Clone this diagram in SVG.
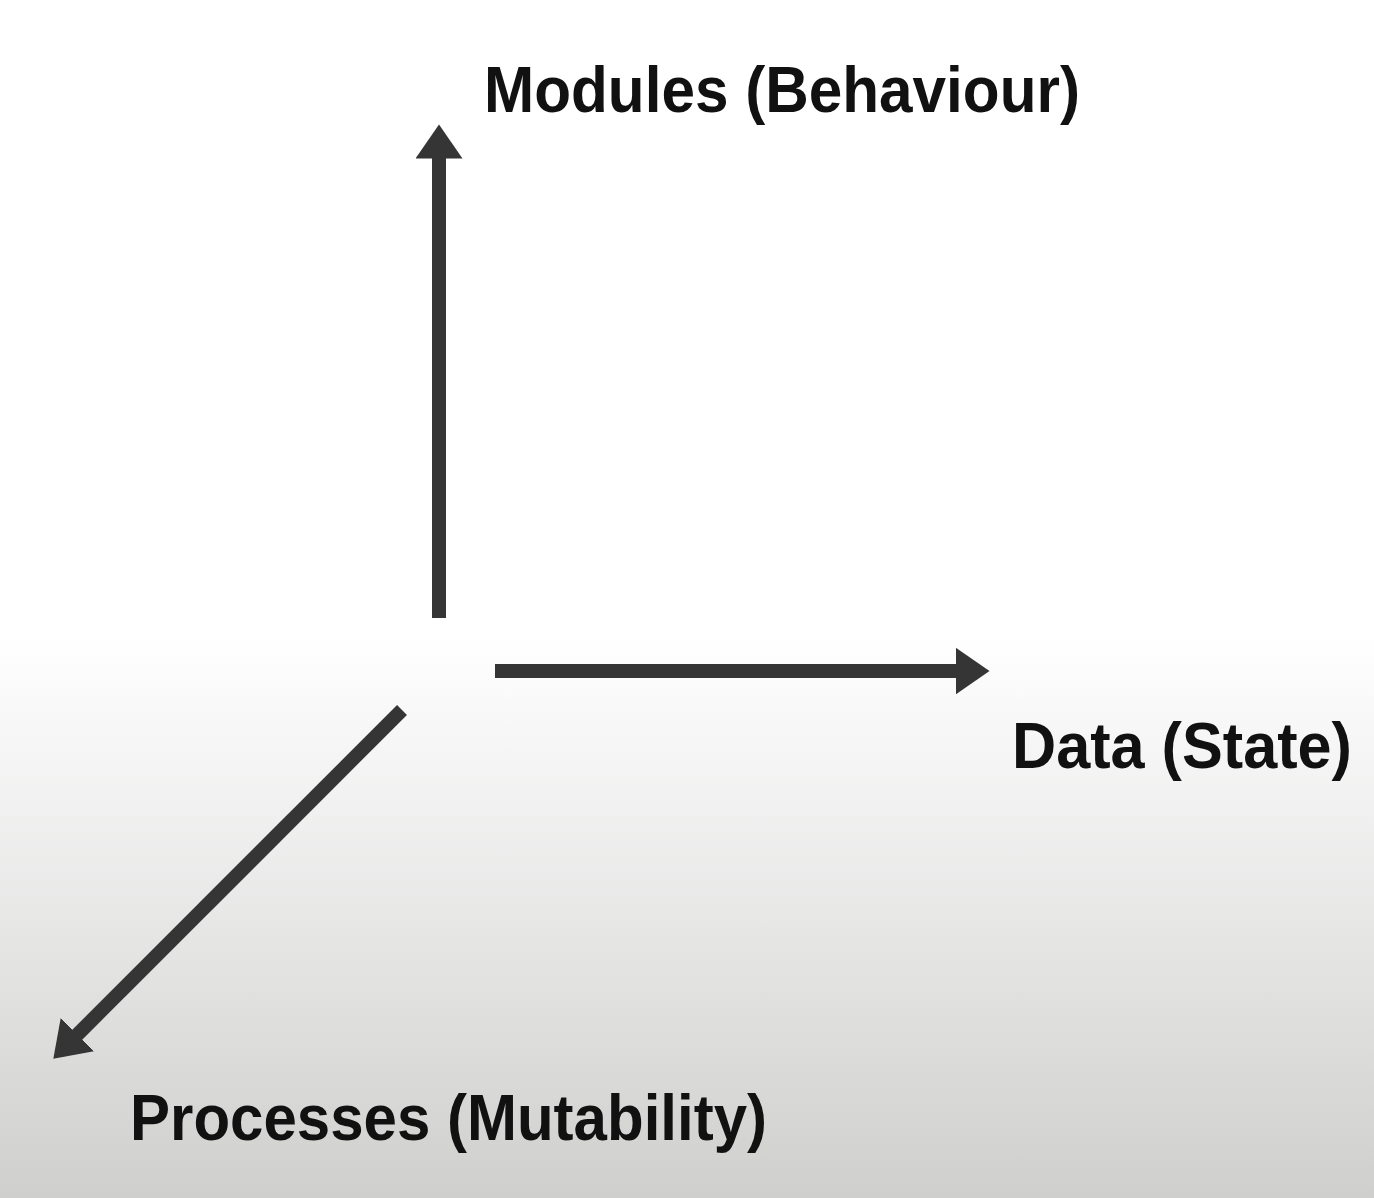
<svg xmlns="http://www.w3.org/2000/svg" width="1374" height="1198" viewBox="0 0 1374 1198">
  <defs>
    <linearGradient id="bg" x1="0" y1="0" x2="0" y2="1198" gradientUnits="userSpaceOnUse">
      <stop offset="0" stop-color="#ffffff"/>
      <stop offset="0.53" stop-color="#ffffff"/>
      <stop offset="1" stop-color="#cfd0ce"/>
    </linearGradient>
    <marker id="head" markerUnits="userSpaceOnUse" markerWidth="35" markerHeight="48" refX="0.5" refY="23.5" orient="auto" viewBox="0 0 35 48">
      <path d="M0,0 L34,23.5 L0,47 Z" fill="#353535"/>
    </marker>
    <style>
      .axis { stroke: #353535; stroke-width: 14; stroke-linecap: butt; fill: none; marker-end: url(#head); }
      .label { font-family: "Liberation Sans", Arial, sans-serif; font-weight: bold; font-size: 64px; fill: #111111; }
    </style>
  </defs>
  <rect x="0" y="0" width="1374" height="1198" fill="url(#bg)"/>
  <g id="connectors">
    <line class="axis" x1="439" y1="618" x2="439" y2="158"/>
    <line class="axis" x1="495" y1="671" x2="956" y2="671"/>
    <line class="axis" x1="402" y1="710" x2="77" y2="1035"/>
  </g>
  <g id="node-modules">
    <text class="label" x="484" y="112" textLength="596" lengthAdjust="spacingAndGlyphs">Modules (Behaviour)</text>
  </g>
  <g id="node-data">
    <text class="label" x="1012" y="768" textLength="340" lengthAdjust="spacingAndGlyphs">Data (State)</text>
  </g>
  <g id="node-processes">
    <text class="label" x="130" y="1140" textLength="637" lengthAdjust="spacingAndGlyphs">Processes (Mutability)</text>
  </g>
</svg>
